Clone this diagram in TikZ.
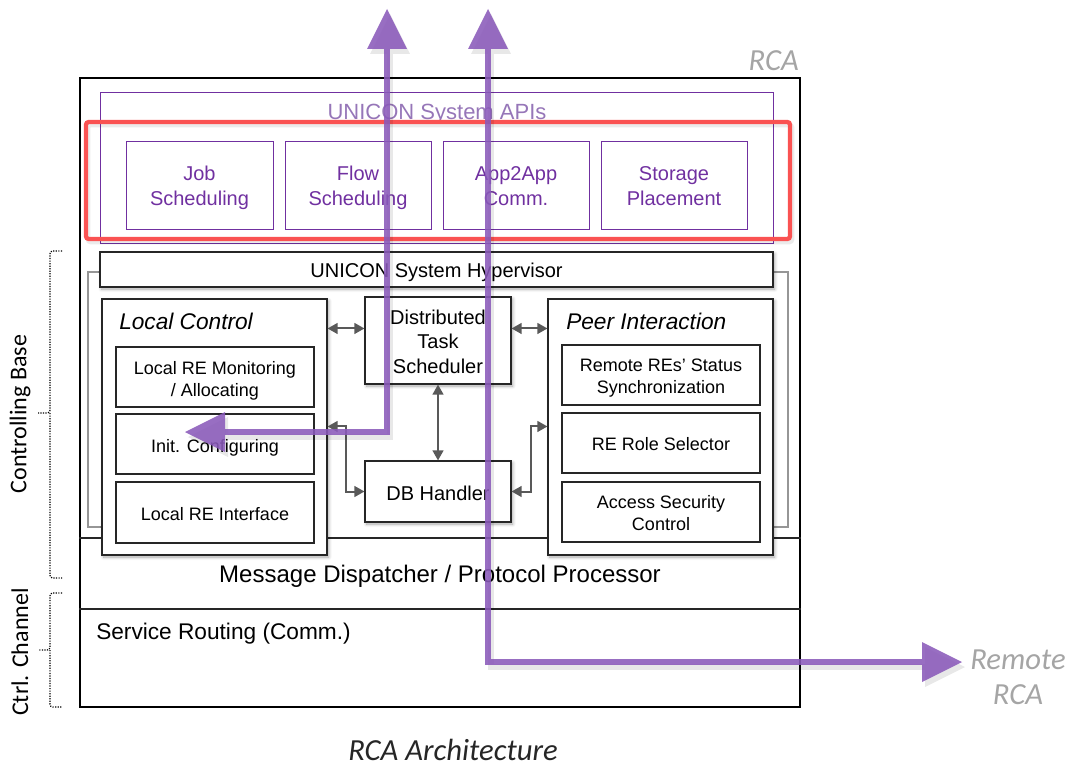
\documentclass[tikz,border=0pt]{standalone}
\usepackage{fontspec}
\setmainfont{Liberation Sans}
\newfontfamily\carlito{Carlito}
\usetikzlibrary{arrows.meta,calc,fit,shadows.blur}

\definecolor{apipurple}{RGB}{112,48,160}
\definecolor{apititle}{RGB}{150,118,184}
\definecolor{flowc}{RGB}{138,90,186}
\definecolor{redframe}{RGB}{250,82,82}
\definecolor{arrowgray}{RGB}{89,89,89}
\definecolor{labelgray}{RGB}{165,165,165}
\definecolor{bracketgray}{RGB}{150,150,150}

\begin{document}
\begin{tikzpicture}[x=0.75pt,y=-0.75pt,
  soft/.style={blur shadow={shadow xshift=1.2pt,shadow yshift=-1.5pt,
      shadow blur radius=2.5pt,shadow blur steps=6,shadow opacity=35}},
  box/.style={draw=black!85,line width=0.8pt,fill=white,inner sep=0pt},
  mainfont/.style={font=\fontsize{15}{18.4}\selectfont,yshift=-1pt},
  subfont/.style={font=\fontsize{13.5}{16.5}\selectfont,yshift=-1pt},
  apifont/.style={text=apipurple,font=\fontsize{15}{18.8}\selectfont,text depth=3.2pt,yshift=-2.2pt},
  apibox/.style={draw=apipurple,line width=0.75pt,inner sep=0pt},
  grouptitle/.style={anchor=west,inner sep=0pt,font=\fontsize{17}{20}\selectfont\itshape},
  link/.style={draw=arrowgray,line width=1.5pt,
      {Triangle[length=7.5pt,width=8pt]}-{Triangle[length=7.5pt,width=8pt]}},
  flow/.style={draw=flowc,line width=4.5pt,opacity=0.88,
      {Triangle[length=30pt,width=30pt,line width=0pt]}-{Triangle[length=30pt,width=30pt,line width=0pt]}},
  flowshadow/.style={draw=black,line width=5pt,opacity=0.09,
      {Triangle[length=30pt,width=30pt,line width=0pt]}-{Triangle[length=30pt,width=30pt,line width=0pt]}},
  brace/.style={densely dotted,line width=0.9pt,rounded corners=2pt},
  sidelabel/.style={rotate=90,font=\carlito\fontsize{18}{20}\selectfont},
  graylabel/.style={text=labelgray,font=\carlito\itshape\fontsize{23}{26}\selectfont,align=center}
]
\useasboundingbox (0,0) rectangle (1073,767);

% outer RCA frame
\node[draw=black,line width=1.1pt,inner sep=0pt,fit={(80,78) (800,707)}] (rca) {};
\node[graylabel,anchor=east,inner sep=0pt] (rcalabel) at (799,61) {RCA};

% grey brackets behind the controlling base
\draw[bracketgray,line width=0.8pt] (100,272) -- (88,272) -- (88,527) -- (102,527);
\draw[bracketgray,line width=0.8pt] (773,272) -- (788,272) -- (788,527) -- (773,527);

% layer separators
\draw[black!85,line width=0.9pt] (rca.west |- 0,538) -- (rca.east |- 0,538);
\draw[black!85,line width=0.9pt] (rca.west |- 0,609) -- (rca.east |- 0,609);
\node[font=\fontsize{18}{20}\selectfont] (mdp) at (440,576) {Message Dispatcher / Protocol Processor};
\node[anchor=west,inner sep=0pt,font=\fontsize{17}{20}\selectfont] (srt) at (96,634) {Service Routing (Comm.)};

% system API layer
\node[draw=apipurple,line width=0.75pt,inner sep=0pt,fit={(100,92) (773,243)}] (apis) {};
\node[text=apititle,font=\fontsize{16.5}{20}\selectfont] (apititle) at (437,114) {UNICON System APIs};
\node[apibox,fit={(126,141) (273,229)}] (job) {};
\node[apifont,align=center] (jobtxt) at (job.center) {Job\\Scheduling};
\node[apibox,fit={(285,141) (431,229)}] (flowsch) {};
\node[apifont,align=center] (flowtxt) at (flowsch.center) {Flow\\Scheduling};
\node[apibox,fit={(443,141) (589,229)}] (app) {};
\node[apifont,align=center] (apptxt) at (app.center) {App2App\\Comm.};
\node[apibox,fit={(601,141) (747,229)}] (stor) {};
\node[apifont,align=center] (stortxt) at (stor.center) {Storage\\Placement};
\draw[black,line width=3.5pt,opacity=0.08,rounded corners=2pt] (88,125) rectangle (792,242);
\node[draw=redframe,line width=3.2pt,rounded corners=2pt,inner sep=0pt,fit={(86,122) (790,239)}] (apiframe) {};

% hypervisor and controlling base
\node[box,soft,fit={(100,252) (773,287)}] (hyp) {};
\node[mainfont,yshift=-1.3pt] (hyptxt) at (hyp.center) {UNICON System Hypervisor};

\node[box,soft,fit={(102,299) (327,555)}] (lc) {};
\node[grouptitle] (lctitle) at (119,321) {Local Control};
\node[box,fit={(116,347) (314,407)}] (lc1) {};
\node[subfont,align=center,yshift=-2pt] (lc1txt) at (lc1.center) {Local RE Monitoring\\/ Allocating};
\node[box,fit={(116,414) (314,474)}] (lc2) {};
\node[subfont,yshift=-2pt] (lc2txt) at (lc2.center) {Init. Configuring};
\node[box,fit={(116,482) (314,543)}] (lc3) {};
\node[subfont] (lc3txt) at (lc3.center) {Local RE Interface};

\node[box,soft,fit={(548,299) (773,555)}] (pi) {};
\node[grouptitle] (pititle) at (566,321) {Peer Interaction};
\node[box,fit={(562,345) (760,405)}] (pi1) {};
\node[subfont,align=center,yshift=-1.3pt] (pi1txt) at (pi1.center) {Remote REs’ Status\\Synchronization};
\node[box,fit={(562,413) (760,473)}] (pi2) {};
\node[subfont] (pi2txt) at (pi2.center) {RE Role Selector};
\node[box,fit={(562,482) (760,542)}] (pi3) {};
\node[subfont,align=center] (pi3txt) at (pi3.center) {Access Security\\Control};

\node[box,soft,fit={(365,297) (511,384)}] (dts) {};
\node[mainfont,align=center] (dtstxt) at (dts.center) {Distributed\\Task\\Scheduler};
\node[box,soft,fit={(365,461) (511,522)}] (db) {};
\node[mainfont,yshift=-0.5pt] (dbtxt) at (db.center) {DB Handler};

% internal message links
\draw[link] ($(lc.north east)+(0,30)$) -- ($(dts.north west)+(0,32)$);
\draw[link] ($(dts.north east)+(0,32)$) -- ($(pi.north west)+(0,30)$);
\draw[link] (dts.south) -- (db.north);
\draw[link] ($(lc.north east)+(0,128)$) -- ++(18,0) |- (db.west);
\draw[link] (db.east) -- ++(19,0) |- ($(pi.north west)+(0,128)$);

% control flows leaving the RCA
\coordinate (cfg) at (185,432);
\coordinate (up1) at (387,9);
\coordinate (up2) at (488,9);
\coordinate (remote) at (962,662);
\draw[flowshadow] ($(cfg)+(3,5)$) -| ($(up1)+(3,5)$);
\draw[flowshadow] ($(up2)+(3,5)$) |- ($(remote)+(3,5)$);
\draw[flow] (cfg) -| (up1);
\draw[flow] (up2) |- (remote);
\node[graylabel] (remotelabel) at (1018,677) {Remote\\RCA};

% side braces
\draw[brace] (62,251) -| (50,413) -- (38,413);
\draw[brace] (50,413) |- (62,578);
\node[sidelabel] (cbase) at (20,414) {Controlling Base};
\draw[brace] (62,593) -| (50,650) -- (38,650);
\draw[brace] (50,650) |- (62,707);
\node[sidelabel] (cchan) at (20,652) {Ctrl. Channel};

% caption
\node[text=black!85,font=\carlito\itshape\fontsize{23}{26}\selectfont] (caption) at (453,750) {RCA Architecture};
\end{tikzpicture}
\end{document}
